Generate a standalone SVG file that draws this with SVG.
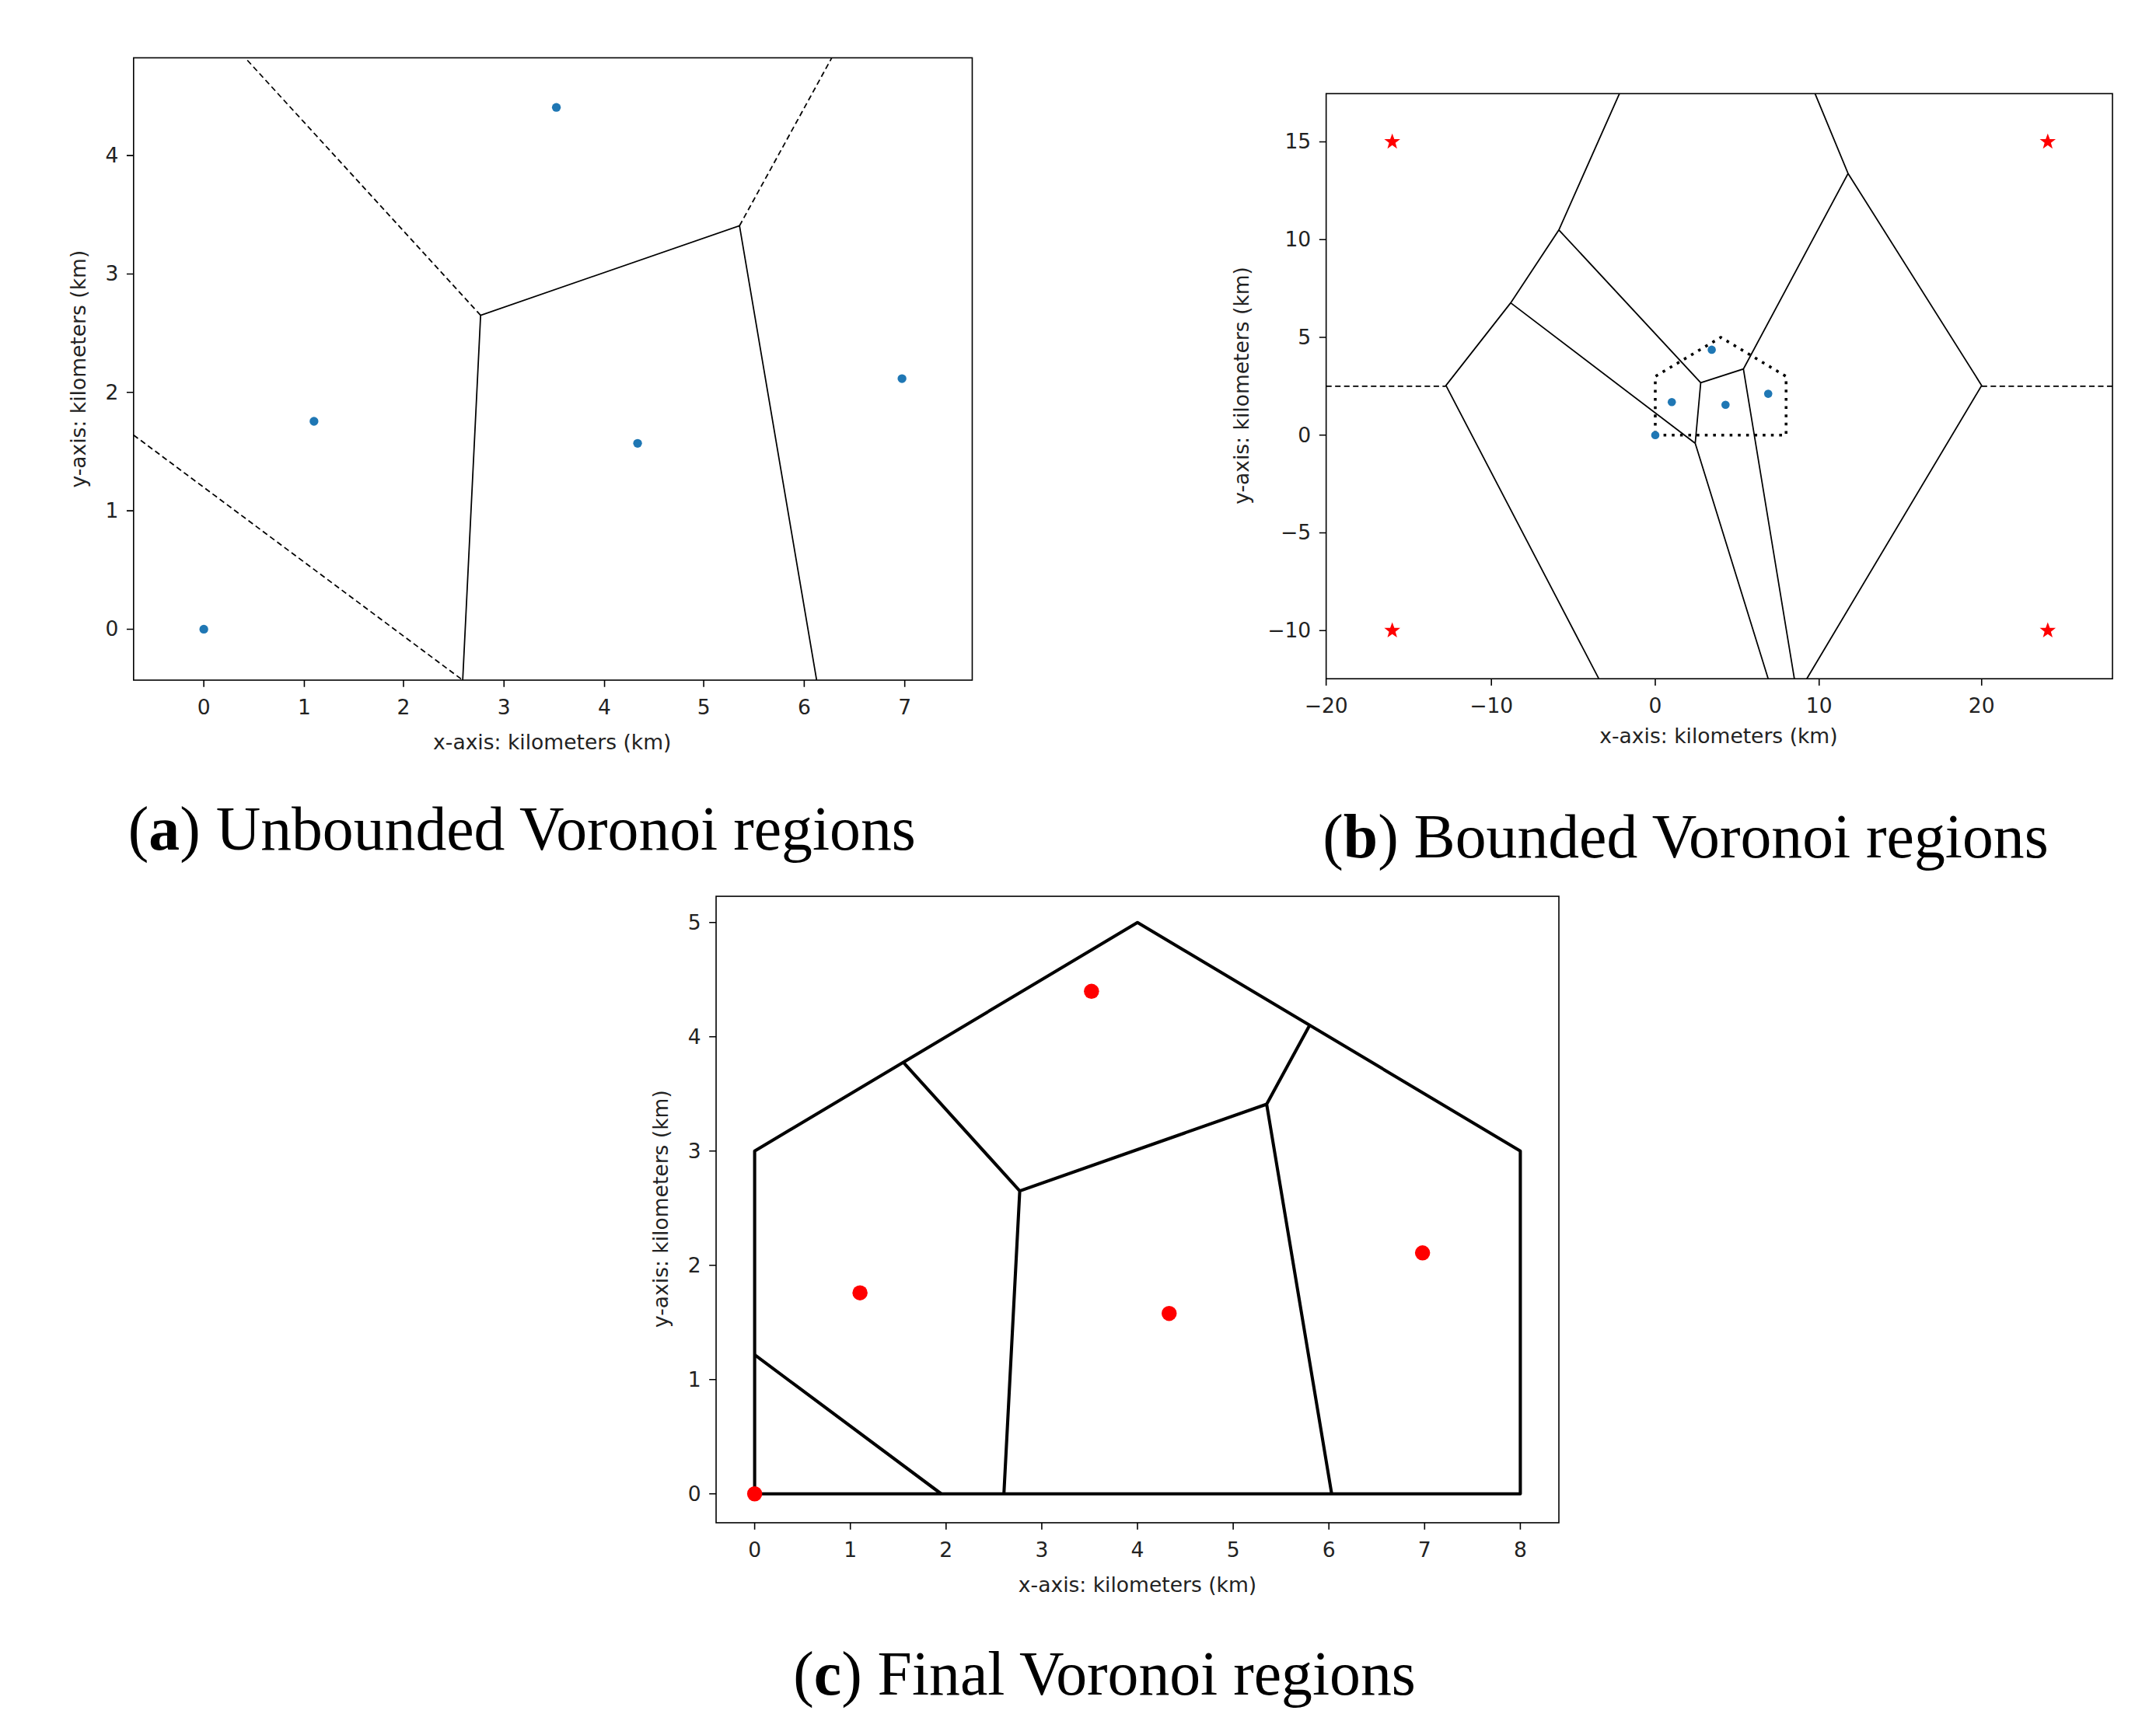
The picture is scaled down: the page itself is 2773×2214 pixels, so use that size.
<svg xmlns="http://www.w3.org/2000/svg" width="2773" height="2214" viewBox="0 0 2773 2214">
<style>
.fr{fill:none;stroke:#000;stroke-width:0.9}
.tk{stroke:#000;stroke-width:0.9}
.tl{font-family:"DejaVu Sans",sans-serif;font-size:15px;fill:#222}
.al{font-family:"DejaVu Sans",sans-serif;font-size:15px;fill:#222;text-anchor:middle}
.cap{font-family:"Liberation Serif",serif;font-size:45px;fill:#000;text-anchor:middle}
.ln{fill:none;stroke:#000;stroke-width:1}
.ds{fill:none;stroke:#000;stroke-width:1;stroke-dasharray:4,2.5}
.dt{fill:none;stroke:#000;stroke-width:2;stroke-dasharray:2,4}
.thk{fill:none;stroke:#000;stroke-width:2.3;stroke-linejoin:round}
.bp{fill:#1f77b4}
.rp{fill:#ff0000}
</style>
<defs>
<polygon id="star" points="0,-6 1.5,-2 5.8,-1.9 2.3,0.8 3.5,5 0,2.5 -3.5,5 -2.3,0.8 -5.8,-1.9 -1.5,-2"/>
</defs>
<rect width="2773" height="2214" fill="#fff"/>
<g transform="scale(1.7712)">
<g id="panel-a">
<rect class="fr" x="97" y="42" width="609" height="452"/>
<g class="tk">
<path d="M148 494v5M221 494v5M293 494v5M366 494v5M439 494v5M511 494v5M584 494v5M657 494v5M97 457h-5M97 371h-5M97 285h-5M97 199h-5M97 113h-5"/>
</g>
<g class="tl" text-anchor="middle">
<text x="148" y="519">0</text><text x="221" y="519">1</text><text x="293" y="519">2</text><text x="366" y="519">3</text><text x="439" y="519">4</text><text x="511" y="519">5</text><text x="584" y="519">6</text><text x="657" y="519">7</text>
</g>
<g class="tl" text-anchor="end">
<text x="86" y="462">0</text><text x="86" y="376">1</text><text x="86" y="290">2</text><text x="86" y="204">3</text><text x="86" y="118">4</text>
</g>
<text class="al" x="401" y="544">x-axis: kilometers (km)</text>
<text class="al" transform="translate(62,268) rotate(-90)">y-axis: kilometers (km)</text>
<g id="edges-a">
<path class="ln" d="M336 494L349 229L537 164L593 494"/>
<path class="ds" d="M349 229L178 42M537 164L604 42M97 316L336 494"/>
</g>
<g class="bp">
<circle cx="148" cy="457" r="3.2"/><circle cx="228" cy="306" r="3.2"/><circle cx="404" cy="78" r="3.2"/><circle cx="463" cy="322" r="3.2"/><circle cx="655" cy="275" r="3.2"/>
</g>
<text class="cap" x="379" y="617">(<tspan font-weight="bold">a</tspan>) Unbounded Voronoi regions</text>
</g>
<g id="panel-b">
<rect class="fr" x="963" y="68" width="571" height="425"/>
<g class="tk">
<path d="M963 493v5M1083 493v5M1202 493v5M1321 493v5M1439 493v5M963 458h-5M963 387h-5M963 316h-5M963 245h-5M963 174h-5M963 103h-5"/>
</g>
<g class="tl" text-anchor="middle">
<text x="963" y="518">−20</text><text x="1083" y="518">−10</text><text x="1202" y="518">0</text><text x="1321" y="518">10</text><text x="1439" y="518">20</text>
</g>
<g class="tl" text-anchor="end">
<text x="952" y="463">−10</text><text x="952" y="392">−5</text><text x="952" y="321">0</text><text x="952" y="250">5</text><text x="952" y="179">10</text><text x="952" y="108">15</text>
</g>
<text class="al" x="1248" y="540">x-axis: kilometers (km)</text>
<text class="al" transform="translate(907,280) rotate(-90)">y-axis: kilometers (km)</text>
<g id="edges-b">
<path class="ln" d="M1161 493L1050 280L1097 220L1132 167L1176 68M1132 167L1235 278L1231 322L1097 220M1235 278L1266 268L1342 126L1318 68M1342 126L1439 280L1312 493M1231 322L1284 493M1266 268L1303 493"/>
<path class="ds" d="M963 280.5H1050M1439 280.5H1534"/>
<path class="dt" d="M1202 316H1297V273.4L1249.6 245L1202 273.4Z"/>
</g>
<g class="bp">
<circle cx="1202" cy="316" r="3"/><circle cx="1214" cy="292" r="3"/><circle cx="1243" cy="254" r="3"/><circle cx="1253" cy="294" r="3"/><circle cx="1284" cy="286" r="3"/>
</g>
<g class="rp">
<use href="#star" x="1011" y="103"/><use href="#star" x="1487" y="103"/><use href="#star" x="1011" y="458"/><use href="#star" x="1487" y="458"/>
</g>
<text class="cap" x="1224" y="623">(<tspan font-weight="bold">b</tspan>) Bounded Voronoi regions</text>
</g>
<g id="panel-c">
<rect class="fr" x="520" y="651" width="612" height="455"/>
<g class="tk">
<path d="M548 1106v5M617.5 1106v5M687 1106v5M756.5 1106v5M826 1106v5M895.5 1106v5M965 1106v5M1034.5 1106v5M1104 1106v5M520 1085h-5M520 1002h-5M520 919h-5M520 836h-5M520 753h-5M520 670h-5"/>
</g>
<g class="tl" text-anchor="middle">
<text x="548" y="1131">0</text><text x="617.5" y="1131">1</text><text x="687" y="1131">2</text><text x="756.5" y="1131">3</text><text x="826" y="1131">4</text><text x="895.5" y="1131">5</text><text x="965" y="1131">6</text><text x="1034.5" y="1131">7</text><text x="1104" y="1131">8</text>
</g>
<g class="tl" text-anchor="end">
<text x="509" y="1090">0</text><text x="509" y="1007">1</text><text x="509" y="924">2</text><text x="509" y="841">3</text><text x="509" y="758">4</text><text x="509" y="675">5</text>
</g>
<text class="al" x="826" y="1156">x-axis: kilometers (km)</text>
<text class="al" transform="translate(485,878) rotate(-90)">y-axis: kilometers (km)</text>
<g id="edges-c">
<path class="thk" d="M548 1085H1104V836L826 670L548 836Z"/>
<path class="thk" d="M548 984L683.5 1085M729 1085L740.5 865L655.7 771.3M740.5 865L919.8 802L951 744.7M919.8 802L967 1085"/>
</g>
<g class="rp">
<circle cx="548" cy="1085" r="5.5"/><circle cx="624.5" cy="939" r="5.5"/><circle cx="792.6" cy="720" r="5.5"/><circle cx="849" cy="954" r="5.5"/><circle cx="1033" cy="910" r="5.5"/>
</g>
<text class="cap" x="802" y="1231">(<tspan font-weight="bold">c</tspan>) Final Voronoi regions</text>
</g>
</g>
</svg>
